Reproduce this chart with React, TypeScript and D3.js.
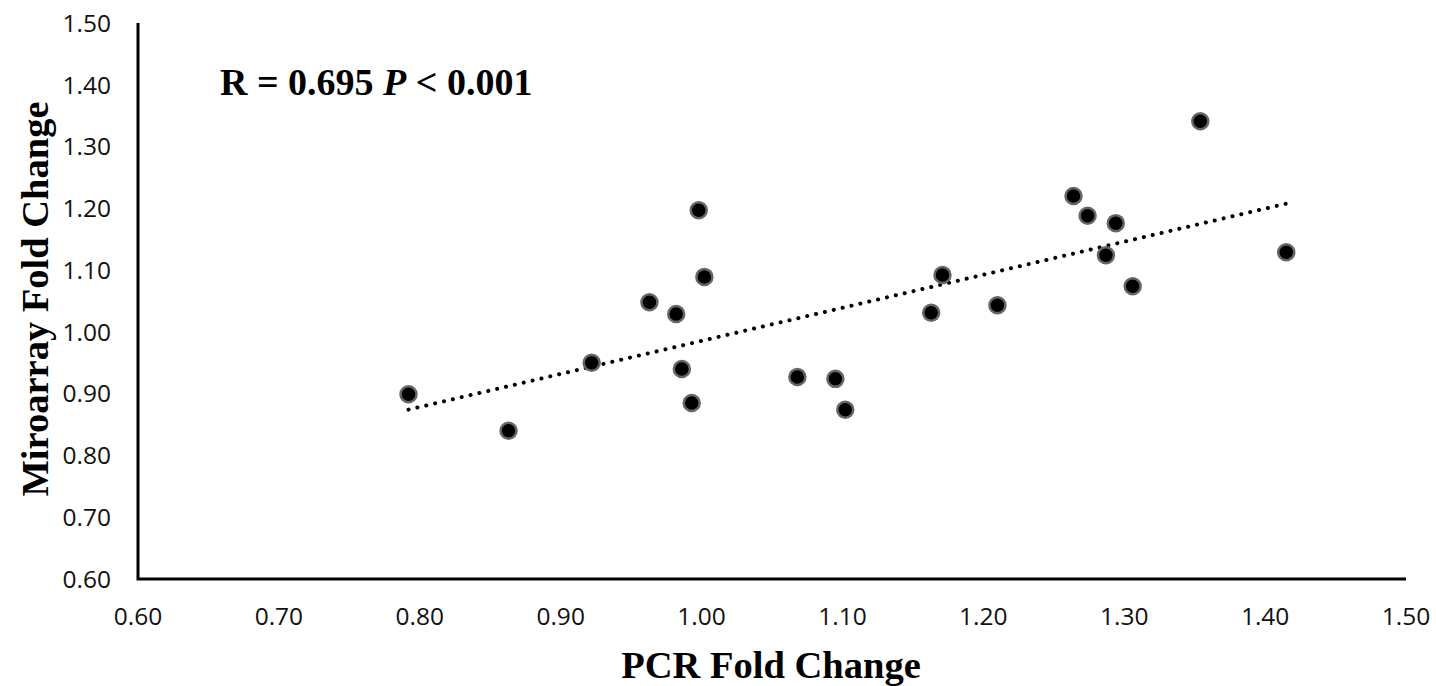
import React, { useEffect, useRef } from "react";
import * as d3 from "d3";

// PCR vs microarray fold change
const pcrFold = [0.792, 0.863, 0.922, 0.963, 0.982, 0.986, 0.993, 0.998, 1.002, 1.068, 1.095, 1.102,
  1.163, 1.171, 1.210, 1.264, 1.274, 1.294, 1.287, 1.306, 1.354, 1.415];
const arrayFold = [0.899, 0.840, 0.950, 1.048, 1.029, 0.940, 0.885, 1.197, 1.089, 0.927, 0.924, 0.874,
  1.031, 1.092, 1.043, 1.220, 1.188, 1.176, 1.124, 1.074, 1.341, 1.129];
const tickValues = [0.6, 0.7, 0.8, 0.9, 1.0, 1.1, 1.2, 1.3, 1.4, 1.5];

const W = 1436, H = 686;
const margin = { top: 23, right: 30, bottom: 107, left: 138 };

export default function App() {
  const ref = useRef<SVGSVGElement>(null);

  useEffect(() => {
    const svg = d3.select(ref.current);
    svg.selectAll("*").remove();

    const x = d3.scaleLinear().domain([0.6, 1.5]).range([margin.left, W - margin.right]);
    const y = d3.scaleLinear().domain([0.6, 1.5]).range([H - margin.bottom, margin.top]);

    const data = pcrFold.map((v, i) => ({ x: v, y: arrayFold[i] }));

    // tick labels
    const tickFont = "'Open Sans', sans-serif";
    svg.append("g")
      .selectAll("text")
      .data(tickValues)
      .enter()
      .append("text")
      .attr("x", 111)
      .attr("y", d => y(d))
      .attr("dy", "0.36em")
      .attr("text-anchor", "end")
      .style("font-family", tickFont)
      .style("font-size", "24.5px")
      .attr("fill", "#111")
      .text(d => d.toFixed(2));

    svg.append("g")
      .selectAll("text")
      .data(tickValues)
      .enter()
      .append("text")
      .attr("x", d => x(d))
      .attr("y", H - margin.bottom + 46)
      .attr("text-anchor", "middle")
      .style("font-family", tickFont)
      .style("font-size", "24.5px")
      .attr("fill", "#111")
      .text(d => d.toFixed(2));

    // axes lines
    svg.append("path")
      .attr("d", `M${x(0.6)},${y(1.5)}V${y(0.6)}H${x(1.5)}`)
      .attr("fill", "none")
      .attr("stroke", "#000")
      .attr("stroke-width", 3);

    // linear trendline (least squares)
    const mx = d3.mean(pcrFold)!, my = d3.mean(arrayFold)!;
    const slope = d3.sum(data, d => (d.x - mx) * (d.y - my)) / d3.sum(data, d => (d.x - mx) ** 2);
    const icpt = my - slope * mx;
    const [x0, x1] = d3.extent(pcrFold) as [number, number];
    const line = d3.line<number>().x(d => x(d)).y(d => y(icpt + slope * d));
    svg.append("path")
      .attr("d", line([x0, x1]))
      .attr("fill", "none")
      .attr("stroke", "#000")
      .attr("stroke-width", 4)
      .attr("stroke-linecap", "round")
      .attr("stroke-dasharray", "0.1 9");

    // points
    svg.append("g")
      .selectAll("circle")
      .data(data)
      .enter()
      .append("circle")
      .attr("cx", d => x(d.x))
      .attr("cy", d => y(d.y))
      .attr("r", 8)
      .attr("fill", "#000")
      .attr("stroke", "#666")
      .attr("stroke-width", 2.5);

    // axis titles
    svg.append("text")
      .attr("transform", `translate(${margin.left + (W - margin.left - margin.right) / 2 - 1},${H - 8})`)
      .attr("text-anchor", "middle")
      .style("font-family", "'Liberation Serif', 'Times New Roman', serif")
      .style("font-weight", "bold")
      .style("font-size", "38.5px")
      .text("PCR Fold Change");

    svg.append("text")
      .attr("transform", `translate(48,${(margin.top + H - margin.bottom) / 2 - 2})rotate(-90)`)
      .attr("text-anchor", "middle")
      .style("font-family", "'Liberation Serif', 'Times New Roman', serif")
      .style("font-weight", "bold")
      .style("font-size", "38.5px")
      .text("Miroarray Fold Change");

    // annotation
    const ann = svg.append("text")
      .attr("x", 220)
      .attr("y", 95)
      .style("font-family", "'Liberation Serif', 'Times New Roman', serif")
      .style("font-weight", "bold")
      .style("font-size", "38px");
    ann.append("tspan").text("R = 0.695 ");
    ann.append("tspan").style("font-style", "italic").text("P");
    ann.append("tspan").text(" < 0.001");
  }, []);

  return (
    <svg
      ref={ref}
      width={W}
      height={H}
      style={{ position: "absolute", left: 0, top: 0, background: "#fff" }}
    />
  );
}
